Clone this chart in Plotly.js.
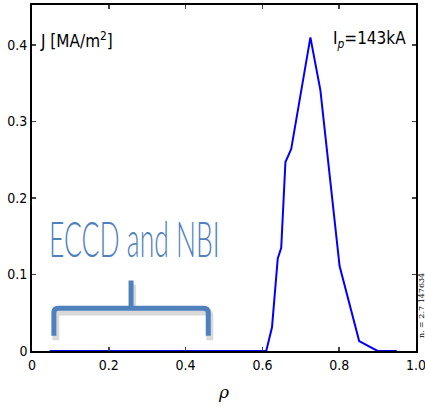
<!DOCTYPE html>
<html><head><meta charset="utf-8">
<script src="https://cdn.plot.ly/plotly-3.0.1.min.js"></script>
<style>body{margin:0;background:#fff}</style>
</head><body>
<div id="chart" style="width:425px;height:407px"></div>
<script>
const rho = [0.046, 0.61, 0.625, 0.64, 0.649, 0.66, 0.675, 0.699, 0.725, 0.751, 0.801, 0.852, 0.9, 0.95];
const J   = [0, 0, 0.031, 0.121, 0.135, 0.247, 0.264, 0.336, 0.41, 0.341, 0.111, 0.013, 0, 0];
const xTicks = [0, 0.2, 0.4, 0.6, 0.8, 1.0];
const xTickLabels = ['0', '0.2', '0.4', '0.6', '0.8', '1.0'];
const yTicks = [0, 0.1, 0.2, 0.3, 0.4];
const yTickLabels = ['0', '0.1', '0.2', '0.3', '0.4'];

const FONT = '"DejaVu Sans Condensed", "Liberation Sans Narrow", Arial, sans-serif';
const trace = {x: rho, y: J, type: 'scatter', mode: 'lines', line: {color: '#0000ff', width: 2}, hoverinfo: 'skip', cliponaxis: false};
const braceColor = '#4f81bd';
const layout = {
  width: 425, height: 407,
  margin: {l: 32, r: 9, t: 5, b: 56},
  paper_bgcolor: '#fff', plot_bgcolor: '#fff',
  showlegend: false,
  font: {family: FONT, color: '#000', size: 14},
  xaxis: {range: [0, 1.0], tickvals: xTicks, ticktext: xTickLabels, ticks: 'inside', ticklen: 4, tickwidth: 1.5,
          ticklabeloverflow: 'allow',
          showline: true, linecolor: '#000', linewidth: 1.8, mirror: 'ticks', showgrid: false, zeroline: false,
          title: {text: 'ρ', font: {size: 17, family: 'DejaVu Serif, serif', style: 'italic'}, standoff: 14}},
  yaxis: {range: [0, 0.4523], tickvals: yTicks, ticktext: yTickLabels, ticks: 'inside', ticklen: 4, tickwidth: 1.5,
          ticklabeloverflow: 'allow',
          showline: true, linecolor: '#000', linewidth: 1.8, mirror: 'ticks', showgrid: false, zeroline: false},
  shapes: [
    {type: 'path', xref: 'x', yref: 'y', line: {color: 'rgba(0,0,0,0.15)', width: 7},
     path: 'M0.062,0.014 L0.062,0.046 Q0.062,0.051 0.072,0.051 L0.262,0.051 L0.262,0.087 M0.262,0.051 L0.452,0.051 Q0.463,0.051 0.463,0.046 L0.463,0.014'},
    {type: 'path', xref: 'x', yref: 'y', line: {color: braceColor, width: 5},
     path: 'M0.057,0.02 L0.057,0.05 Q0.057,0.056 0.068,0.056 L0.258,0.056 L0.258,0.092 M0.258,0.056 L0.447,0.056 Q0.459,0.056 0.459,0.05 L0.459,0.02'}
  ],
  annotations: [
    {xref: 'paper', yref: 'paper', x: 0.015, y: 0.9, xanchor: 'left', yanchor: 'middle', showarrow: false,
     text: 'J [MA/m<sup>2</sup>]', font: {size: 17}},
    {xref: 'paper', yref: 'paper', x: 0.98, y: 0.9, xanchor: 'right', yanchor: 'middle', showarrow: false,
     text: 'I<sub><i>p</i></sub>=143kA', font: {size: 17}},
    {xref: 'x', yref: 'y', x: 0.04, y: 0.148, xanchor: 'left', yanchor: 'middle', showarrow: false,
     text: 'ECCD and NBI', font: {size: 50, color: braceColor, family: 'Lato, "Open Sans", sans-serif', weight: 300}},
    {xref: 'paper', yref: 'paper', x: 1.0, xshift: 5, y: 0.03, xanchor: 'center', yanchor: 'bottom', showarrow: false,
     text: 'n. = 2.7 147634', textangle: -90, font: {size: 8, family: 'DejaVu Serif, serif'}}
  ]
};
Plotly.newPlot('chart', [trace], layout, {staticPlot: true, displayModeBar: false}).then(function () {
  // condense the large label horizontally to match the narrow lettering of the reference
  document.querySelectorAll('.annotation-text').forEach(function (t) {
    if (t.textContent === 'ECCD and NBI') {
      t.style.transformBox = 'fill-box';
      t.style.transformOrigin = 'left center';
      t.style.transform = 'scaleX(0.53)';
    }
  });
});
</script>
</body></html>
